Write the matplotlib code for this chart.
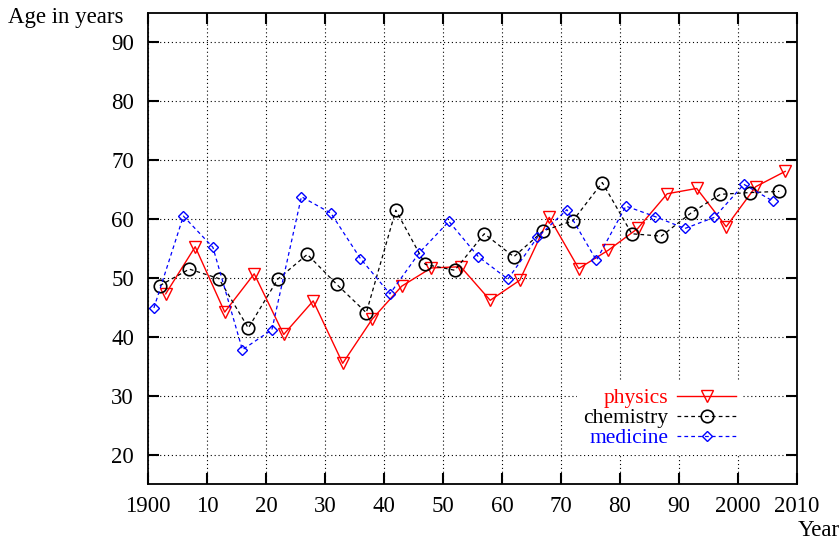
import matplotlib
matplotlib.use("Agg")
import matplotlib.pyplot as plt

plt.rcParams['font.family'] = ['Liberation Serif', 'DejaVu Serif']

# ---- data ----
physics_years = [1903, 1908, 1913, 1918, 1923, 1928, 1933, 1938, 1943, 1948, 1953,
                 1958, 1963, 1968, 1973, 1978, 1983, 1988, 1993, 1998, 2003, 2008]
physics_age = [47.3, 55.3, 44.2, 50.7, 40.4, 46.1, 35.5, 43.0, 48.6, 51.7, 51.9,
               46.2, 49.6, 60.3, 51.6, 54.7, 58.4, 64.3, 65.2, 58.7, 65.5, 68.1]

chemistry_years = [1902, 1907, 1912, 1917, 1922, 1927, 1932, 1937, 1942, 1947, 1952,
                   1957, 1962, 1967, 1972, 1977, 1982, 1987, 1992, 1997, 2002, 2007]
chemistry_age = [48.7, 51.5, 49.9, 41.5, 49.8, 54.0, 48.9, 44.1, 61.5, 52.3, 51.3,
                 57.5, 53.6, 58.0, 59.7, 66.2, 57.5, 57.1, 61.0, 64.2, 64.5, 64.7]

medicine_years = [1901, 1906, 1911, 1916, 1921, 1926, 1931, 1936, 1941, 1946, 1951,
                  1956, 1961, 1966, 1971, 1976, 1981, 1986, 1991, 1996, 2001, 2006]
medicine_age = [44.9, 60.5, 55.2, 37.8, 41.2, 63.8, 61.0, 53.3, 47.3, 54.3, 59.6,
                53.6, 49.8, 56.9, 61.6, 53.0, 62.2, 60.4, 58.4, 60.3, 65.9, 63.0]

x_ticks = [1900, 1910, 1920, 1930, 1940, 1950, 1960, 1970, 1980, 1990, 2000, 2010]
x_tick_labels = ["1900", "10", "20", "30", "40", "50", "60", "70", "80", "90", "2000", "2010"]
y_ticks = [20, 30, 40, 50, 60, 70, 80, 90]

fig = plt.figure(figsize=(8.4, 5.43), dpi=100)
ax = fig.add_axes([148 / 840, 1 - 484 / 543, (797 - 148) / 840, (484 - 13) / 543])

ax.plot(physics_years, physics_age, color='#ff0000', lw=1.0, marker='v',
        markersize=8, markerfacecolor='none', markeredgecolor='#ff0000',
        markeredgewidth=1.0, label='physics')
ax.plot(chemistry_years, chemistry_age, color='black', lw=0.9, linestyle=(0, (3, 2.5)),
        marker='o', markersize=9, markerfacecolor='none', markeredgecolor='black',
        markeredgewidth=1.2, label='chemistry')
ax.plot(medicine_years, medicine_age, color='#0000ff', lw=0.9, linestyle=(0, (3, 2.5)),
        marker='D', markersize=5.5, markerfacecolor='none', markeredgecolor='#0000ff',
        markeredgewidth=1.0, label='medicine')

ax.set_xlim(1900, 2010)
ax.set_ylim(15, 95)
ax.set_xticks(x_ticks)
ax.set_xticklabels(x_tick_labels)
ax.set_yticks(y_ticks)

ax.grid(True, color='black', linestyle=(0, (1, 2.5)), linewidth=0.8)
ax.set_axisbelow(True)
ax.tick_params(direction='in', length=8, width=1.5, top=True, right=True,
               labelsize=16.5)
ax.tick_params(axis='x', pad=9)
ax.tick_params(axis='y', pad=10)
for s in ax.spines.values():
    s.set_linewidth(1.3)

fig.text(8 / 840, 1 - 17 / 543, "Age in years", fontsize=16.5, ha='left', va='center')
fig.text(840 / 840, 1 - 530 / 543, "Year", fontsize=16.5, ha='right', va='center')

leg = ax.legend(loc='upper right', bbox_to_anchor=(0.933, 0.24), markerfirst=False,
                fontsize=15.5, handlelength=2.75, labelspacing=0.0, borderpad=0.3,
                handletextpad=0.4, fancybox=False, framealpha=1.0,
                edgecolor='none', facecolor='white', labelcolor='linecolor')
for t in leg.get_texts():
    t.set_ha('right')

fig.savefig("out.png", dpi=100)
